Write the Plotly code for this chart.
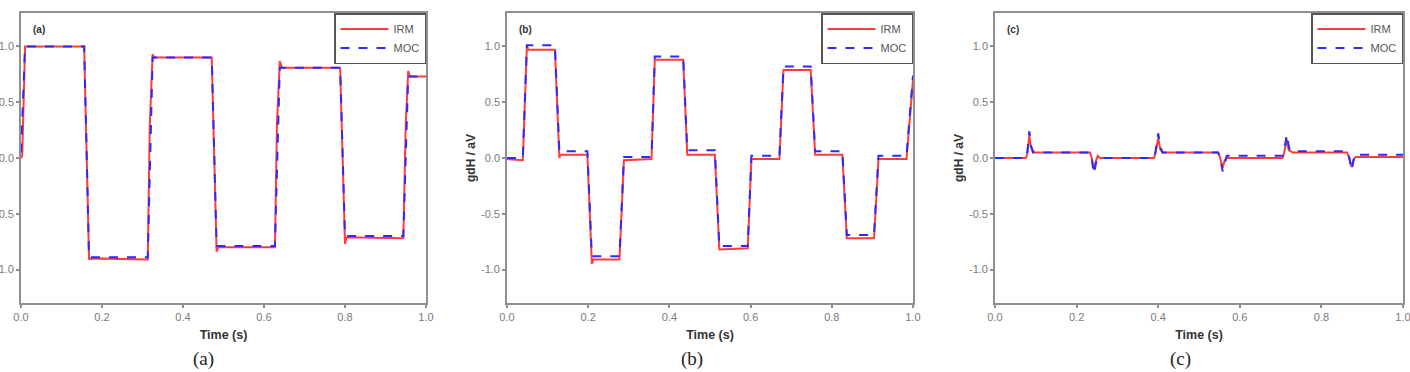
import plotly.graph_objects as go

W, H = 1410, 372

# ---------------- data ----------------
# Panel (a)
a_t_irm = [0.0, 0.003, 0.010, 0.156, 0.168, 0.172, 0.313, 0.318, 0.325, 0.329, 0.471, 0.483, 0.487, 0.627, 0.632, 0.639, 0.644, 0.788, 0.800, 0.804, 0.944, 0.950, 0.956, 0.961, 1.0]
a_y_irm = [0.0, 0.02, 1.00, 1.00, -0.91, -0.90, -0.91, 0.30, 0.93, 0.90, 0.90, -0.84, -0.80, -0.80, 0.30, 0.87, 0.81, 0.81, -0.77, -0.71, -0.72, 0.30, 0.78, 0.73, 0.73]
a_t_moc = [0.0, 0.010, 0.156, 0.168, 0.313, 0.325, 0.471, 0.483, 0.627, 0.639, 0.788, 0.800, 0.944, 0.956, 1.0]
a_y_moc = [0.05, 1.00, 1.00, -0.89, -0.89, 0.90, 0.90, -0.79, -0.79, 0.81, 0.81, -0.70, -0.70, 0.73, 0.73]

# Panel (b)
b_t_irm = [0.0, 0.039, 0.049, 0.052, 0.118, 0.129, 0.132, 0.198, 0.209, 0.213, 0.277, 0.288, 0.356, 0.364, 0.434, 0.444, 0.512, 0.523, 0.593, 0.602, 0.671, 0.681, 0.748, 0.759, 0.826, 0.837, 0.904, 0.915, 0.984, 1.0]
b_y_irm = [-0.01, -0.02, 1.01, 0.97, 0.97, 0.00, 0.03, 0.03, -0.95, -0.91, -0.91, -0.02, -0.01, 0.88, 0.88, 0.03, 0.03, -0.82, -0.81, -0.01, -0.01, 0.79, 0.79, 0.03, 0.03, -0.72, -0.72, -0.01, -0.01, 0.70]
b_t_moc = [0.0, 0.039, 0.049, 0.118, 0.129, 0.198, 0.209, 0.277, 0.288, 0.356, 0.364, 0.434, 0.444, 0.512, 0.523, 0.593, 0.602, 0.671, 0.681, 0.748, 0.759, 0.826, 0.837, 0.904, 0.915, 0.984, 1.0]
b_y_moc = [0.0, 0.0, 1.01, 1.01, 0.06, 0.06, -0.88, -0.88, 0.01, 0.01, 0.91, 0.91, 0.07, 0.07, -0.79, -0.79, 0.02, 0.02, 0.82, 0.82, 0.06, 0.06, -0.69, -0.69, 0.02, 0.02, 0.74]

# Panel (c)
c_t_irm = [0.0, 0.076, 0.080, 0.084, 0.088, 0.092, 0.097, 0.102, 0.233, 0.237, 0.242, 0.247, 0.252, 0.257, 0.390, 0.394, 0.400, 0.405, 0.410, 0.415, 0.547, 0.552, 0.558, 0.563, 0.568, 0.705, 0.709, 0.715, 0.720, 0.725, 0.730, 0.863, 0.868, 0.874, 0.879, 0.884, 1.0]
c_y_irm = [0.0, 0.0, 0.05, 0.20, 0.10, 0.07, 0.05, 0.05, 0.05, 0.00, -0.10, -0.03, 0.02, 0.0, 0.0, 0.06, 0.18, 0.08, 0.05, 0.05, 0.05, 0.00, -0.09, -0.02, 0.0, 0.0, 0.05, 0.17, 0.07, 0.06, 0.05, 0.05, 0.00, -0.08, -0.01, 0.01, 0.01]
c_t_moc = [0.0, 0.076, 0.080, 0.084, 0.089, 0.093, 0.233, 0.237, 0.242, 0.248, 0.253, 0.390, 0.394, 0.400, 0.406, 0.411, 0.547, 0.552, 0.558, 0.564, 0.568, 0.705, 0.709, 0.715, 0.721, 0.725, 0.863, 0.868, 0.874, 0.879, 0.882, 1.0]
c_y_moc = [0.0, 0.0, 0.08, 0.24, 0.10, 0.05, 0.05, 0.00, -0.14, -0.04, 0.0, 0.0, 0.07, 0.22, 0.09, 0.05, 0.05, 0.00, -0.12, -0.02, 0.02, 0.02, 0.07, 0.21, 0.09, 0.06, 0.06, 0.01, -0.11, -0.02, 0.03, 0.03]

x_ticks = [0.0, 0.2, 0.4, 0.6, 0.8, 1.0]
y_ticks = [-1.0, -0.5, 0.0, 0.5, 1.0]
panel_tags = ["(a)", "(b)", "(c)"]
series_names = ["IRM", "MOC"]
x_title = "Time (s)"
y_title = "gdH / aV"

# ---------------- layout helpers ----------------
RED = "#ff3b3b"
BLUE = "#2b2bff"
FRAME = "#8f8f8f"
TICKTXT = "#7a7a7a"

panels_px = [(21, 426), (507, 913), (995, 1403)]
top_px, bot_px = 13, 303
ydom = [1 - bot_px / H, 1 - top_px / H]

fig = go.Figure()

data = [
    (a_t_irm, a_y_irm, a_t_moc, a_y_moc),
    (b_t_irm, b_y_irm, b_t_moc, b_y_moc),
    (c_t_irm, c_y_irm, c_t_moc, c_y_moc),
]

for i, (ti, yi, tm, ym) in enumerate(data):
    sfx = "" if i == 0 else str(i + 1)
    leg = "legend" + sfx
    fig.add_trace(go.Scatter(x=ti, y=yi, mode="lines", name=series_names[0],
                             line=dict(color=RED, width=2),
                             xaxis="x" + sfx, yaxis="y" + sfx, legend=leg))
    fig.add_trace(go.Scatter(x=tm, y=ym, mode="lines", name=series_names[1],
                             line=dict(color=BLUE, width=2, dash="dash"),
                             xaxis="x" + sfx, yaxis="y" + sfx, legend=leg))

layout = dict(
    width=W, height=H,
    margin=dict(l=0, r=0, t=0, b=0, autoexpand=False),
    paper_bgcolor="white", plot_bgcolor="white",
    font=dict(family="Liberation Sans, Arial, sans-serif", color="#555"),
    showlegend=True,
)

annotations = []
for i, (x0, x1) in enumerate(panels_px):
    sfx = "" if i == 0 else str(i + 1)
    xd = [x0 / W, x1 / W]
    layout["xaxis" + sfx] = dict(
        domain=xd, anchor="y" + sfx, range=[0, 1], automargin=False,
        tickvals=x_ticks, ticktext=[f"{v:.1f}" for v in x_ticks],
        ticks="outside", ticklen=3, tickcolor=FRAME, tickwidth=1.5,
        ticklabeloverflow="allow",
        showline=True, linecolor=FRAME, linewidth=1.6, mirror=True,
        showgrid=False, zeroline=False,
        tickfont=dict(size=11, color=TICKTXT),
        title=dict(text=f"<b>{x_title}</b>", font=dict(size=12.5, color="#333"), standoff=8),
    )
    layout["yaxis" + sfx] = dict(
        domain=ydom, anchor="x" + sfx, range=[-1.3, 1.3], automargin=False,
        tickvals=y_ticks, ticktext=[f"{v:.1f}" for v in y_ticks],
        ticks="outside", ticklen=3, tickcolor=FRAME, tickwidth=1.5,
        ticklabeloverflow="allow",
        showline=True, linecolor=FRAME, linewidth=1.6, mirror=True,
        showgrid=False, zeroline=False,
        tickfont=dict(size=11, color=TICKTXT),
        title=dict(text=f"<b>{y_title}</b>" if i > 0 else "", font=dict(size=12, color="#333"), standoff=3),
    )
    layout["legend" + sfx] = dict(
        x=x1 / W, xanchor="right", y=1 - top_px / H, yanchor="top",
        bordercolor="#555", borderwidth=1.5, bgcolor="white",
        font=dict(size=11, color="#555"), itemwidth=48,
        tracegroupgap=0,
    )
    # inside panel tag
    annotations.append(dict(
        x=x0 / W + 10 / W, y=1 - 29 / H, xref="paper", yref="paper",
        xanchor="left", yanchor="middle", showarrow=False,
        text=f"<b>{panel_tags[i]}</b>", font=dict(size=10, color="#333"),
    ))
    # caption under panel
    cx = [203, 692, 1180][i]
    annotations.append(dict(
        x=cx / W, y=0, xref="paper", yref="paper",
        xanchor="center", yanchor="bottom", showarrow=False,
        text=panel_tags[i], font=dict(size=19, color="#222", family="Liberation Serif, serif"),
    ))

layout["annotations"] = annotations
fig.update_layout(**layout)

fig.write_html("out.html")
